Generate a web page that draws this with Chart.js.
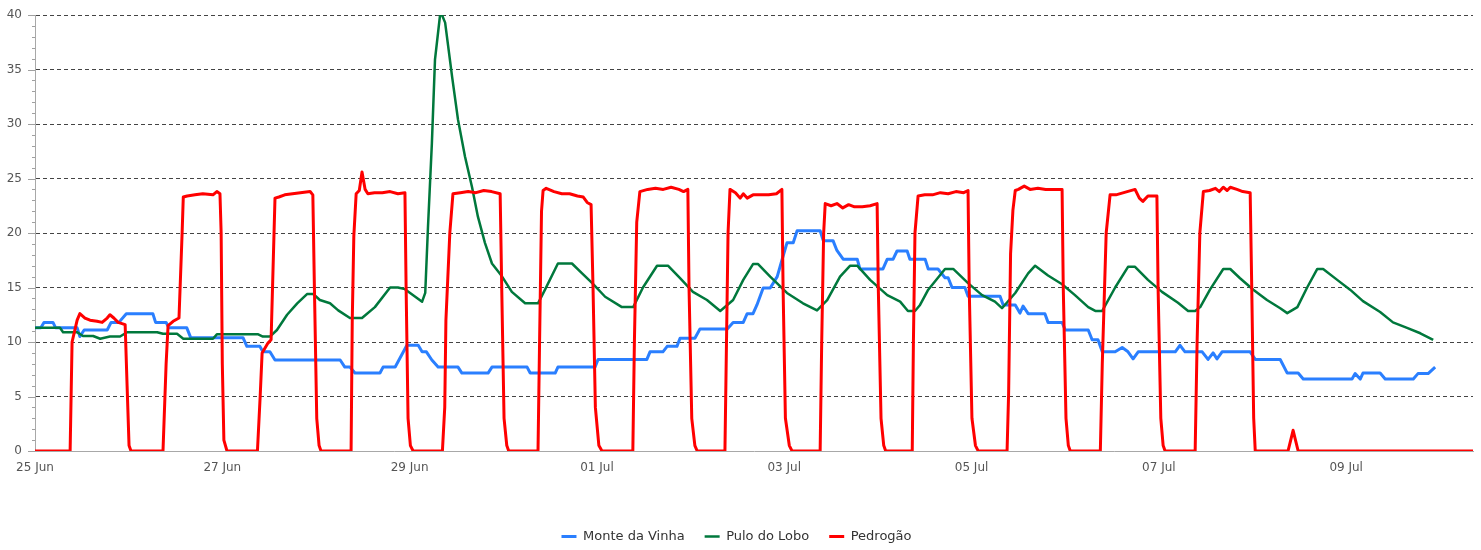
<!DOCTYPE html>
<html>
<head>
<meta charset="utf-8">
<script src="https://cdn.jsdelivr.net/npm/chart.js@4.4.0/dist/chart.umd.min.js"></script>
<style>
  html, body { margin: 0; padding: 0; background: #fff; overflow: hidden; }
</style>
</head>
<body>
<canvas id="chart" width="1481" height="550"></canvas>
<script>
// hours since 25 Jun 00:00
const tickHours = [0, 48, 96, 144, 192, 240, 288, 336];
const tickLabels = ['25 Jun', '27 Jun', '29 Jun', '01 Jul', '03 Jul', '05 Jul', '07 Jul', '09 Jul'];
const yTicks = [0, 5, 10, 15, 20, 25, 30, 35, 40];

const monteDaVinha = [
  [0, 11.3], [1.5, 11.3], [2.3, 11.8], [4.6, 11.8], [5.3, 11.3], [10.8, 11.3], [11.5, 10.5], [12.6, 11.1],
  [18.5, 11.1], [19.5, 11.8], [21.5, 11.8], [23.4, 12.6], [30.2, 12.6], [30.9, 11.8], [33.6, 11.8], [34.3, 11.3],
  [38.9, 11.3], [39.9, 10.4], [53.3, 10.4], [54.3, 9.6], [57.6, 9.6], [58.4, 9.1], [60.2, 9.1], [61.5, 8.35],
  [78.2, 8.35], [79.4, 7.7], [80.7, 7.7], [82.0, 7.15], [88.4, 7.15], [89.2, 7.7], [92.3, 7.7], [95.3, 9.7],
  [98.2, 9.7], [99.2, 9.1], [100.3, 9.1], [101.7, 8.35], [103.3, 7.7], [108.4, 7.7], [109.4, 7.15], [116.1, 7.15],
  [117.1, 7.7], [126.1, 7.7], [126.9, 7.15], [133.3, 7.15], [134.0, 7.7], [143.5, 7.7], [144.3, 8.4], [156.8, 8.4],
  [157.6, 9.1], [160.9, 9.1], [162.0, 9.6], [164.5, 9.6], [165.3, 10.35], [169.1, 10.35], [170.4, 11.2], [177.4, 11.2],
  [178.9, 11.8], [181.5, 11.8], [182.5, 12.6], [184.0, 12.6], [185.0, 13.4], [186.6, 14.95], [188.4, 14.95], [190.2, 16.0],
  [191.4, 17.5], [192.7, 19.1], [194.3, 19.1], [195.3, 20.2], [201.2, 20.2], [202.0, 19.3], [204.5, 19.3], [205.5, 18.4],
  [207.1, 17.6], [210.7, 17.6], [211.4, 16.7], [217.3, 16.7], [218.4, 17.6], [219.9, 17.6], [220.9, 18.35], [223.5, 18.35],
  [224.2, 17.6], [228.1, 17.6], [228.9, 16.7], [231.4, 16.7], [233.2, 15.9], [234.0, 15.9], [235.0, 15.0], [238.3, 15.0],
  [239.1, 14.2], [247.3, 14.2], [248.1, 13.4], [251.2, 13.4], [252.4, 12.65], [253.2, 13.3], [254.5, 12.6], [258.8, 12.6],
  [259.6, 11.8], [263.2, 11.8], [264.0, 11.1], [269.9, 11.1], [270.9, 10.2], [272.4, 10.2], [273.5, 9.1], [276.8, 9.1],
  [278.6, 9.5], [280.1, 9.1], [281.4, 8.45], [282.7, 9.1], [292.2, 9.1], [293.4, 9.7], [294.7, 9.1], [299.1, 9.1],
  [300.6, 8.4], [301.9, 9.0], [302.9, 8.45], [304.2, 9.1], [311.4, 9.1], [312.7, 8.4], [319.1, 8.4], [320.9, 7.15],
  [323.7, 7.15], [325.0, 6.6], [337.5, 6.6], [338.3, 7.1], [339.6, 6.6], [340.3, 7.15], [344.7, 7.15], [346.0, 6.6],
  [353.2, 6.6], [354.4, 7.1], [357.0, 7.1], [358.8, 7.7]
];

const puloDoLobo = [
  [0, 11.3], [6.4, 11.3], [7.2, 10.9], [10.8, 10.9], [12.3, 10.55], [14.9, 10.55], [16.7, 10.3], [19.2, 10.5],
  [21.8, 10.5], [23.6, 10.9], [31.3, 10.9], [32.8, 10.75], [36.4, 10.75], [38.0, 10.3], [45.6, 10.3], [46.6, 10.7],
  [57.2, 10.7], [58.4, 10.5], [60.2, 10.5], [62.0, 11.1], [64.6, 12.5], [67.2, 13.55], [69.7, 14.4], [71.3, 14.4],
  [73.0, 13.85], [75.6, 13.55], [77.7, 12.9], [80.7, 12.2], [83.8, 12.2], [87.1, 13.2], [91.0, 15.0], [93.0, 15.0],
  [94.8, 14.85], [99.2, 13.7], [100.0, 14.5], [100.7, 20.5], [101.7, 28.2], [102.5, 35.9], [103.8, 40.0], [104.3, 40.0],
  [105.1, 39.3], [106.9, 34.3], [108.4, 30.4], [110.2, 27.0], [112.0, 24.2], [113.5, 21.5], [115.3, 19.1], [117.1, 17.2],
  [119.7, 16.0], [122.2, 14.6], [125.6, 13.55], [128.9, 13.55], [130.7, 14.8], [134.0, 17.2], [137.6, 17.2], [140.2, 16.3],
  [142.8, 15.4], [146.1, 14.15], [150.4, 13.2], [153.3, 13.2], [155.8, 15.0], [159.4, 17.0], [162.2, 17.0], [165.3, 15.85],
  [168.6, 14.6], [172.2, 13.85], [175.6, 12.85], [178.9, 13.85], [181.5, 15.7], [184.0, 17.15], [185.3, 17.15], [188.4, 16.0],
  [192.7, 14.5], [196.8, 13.55], [200.4, 12.9], [203.0, 13.85], [206.3, 16.0], [208.9, 17.0], [210.7, 17.0], [214.0, 15.7],
  [218.4, 14.3], [221.7, 13.7], [223.7, 12.85], [225.5, 12.85], [226.8, 13.4], [228.9, 14.8], [233.2, 16.7], [235.3, 16.7],
  [239.1, 15.4], [242.7, 14.3], [246.0, 13.7], [247.8, 13.1], [251.2, 14.5], [254.5, 16.3], [256.3, 17.0], [259.6, 16.1],
  [263.2, 15.3], [266.5, 14.3], [269.9, 13.2], [271.7, 12.85], [273.5, 12.85], [276.8, 15.0], [280.1, 16.9], [281.9, 16.9],
  [285.2, 15.7], [288.8, 14.6], [292.9, 13.6], [295.5, 12.85], [297.3, 12.85], [298.6, 13.2], [301.1, 14.8], [304.5, 16.7],
  [306.3, 16.7], [308.8, 15.85], [312.2, 14.8], [315.7, 13.85], [319.1, 13.1], [320.9, 12.65], [323.5, 13.2], [326.0, 15.0],
  [328.6, 16.7], [330.1, 16.7], [333.7, 15.7], [337.0, 14.8], [340.3, 13.75], [344.7, 12.75], [348.0, 11.8], [351.6, 11.3],
  [355.0, 10.8], [358.3, 10.2]
];

const pedrogao = [
  [0, 0], [9.0, 0], [9.5, 10.0], [10.8, 12.0], [11.5, 12.6], [12.8, 12.2], [14.1, 12.0], [15.9, 11.9], [17.2, 11.8],
  [18.5, 12.2], [19.2, 12.5], [20.2, 12.2], [21.3, 11.8], [23.1, 11.6], [23.6, 6], [24.1, 0.5], [24.6, 0],
  [32.8, 0], [33.6, 8], [34.1, 11.5], [35.4, 11.9], [36.9, 12.2], [37.7, 20], [38.0, 23.3], [39.0, 23.4], [41, 23.5],
  [43, 23.6], [45.6, 23.5], [46.6, 23.8], [47.4, 23.6], [47.7, 20], [48.0, 8], [48.4, 1], [49.2, 0],
  [57.0, 0], [57.7, 5], [58.2, 9.0], [59.7, 9.9], [60.5, 10.2], [61.5, 23.2], [62.5, 23.3], [64, 23.5], [66, 23.6],
  [68, 23.7], [70.5, 23.8], [71.2, 23.5], [71.6, 15], [72.2, 3], [72.8, 0.5], [73.3, 0],
  [81.0, 0], [81.3, 12], [81.7, 19.7], [82.3, 23.6], [83.1, 23.9], [83.8, 25.6], [84.6, 24.0], [85.3, 23.6], [87, 23.7],
  [89, 23.7], [91, 23.8], [93, 23.6], [94.8, 23.7], [95.1, 15], [95.6, 3], [96.2, 0.5], [96.9, 0],
  [104.4, 0], [105.0, 4], [105.3, 12], [106.3, 20], [107.1, 23.6], [109, 23.7], [111, 23.8], [113, 23.7], [115, 23.9],
  [117, 23.8], [119.2, 23.6], [119.6, 15], [120.2, 3], [120.9, 0.5], [121.4, 0],
  [128.9, 0], [129.3, 10], [129.8, 22], [130.2, 23.9], [131, 24.1], [133, 23.8], [135, 23.6], [137, 23.6], [139, 23.4],
  [140.5, 23.3], [141.5, 22.8], [142.5, 22.6], [143.0, 15], [143.6, 4], [144.5, 0.5], [145.3, 0],
  [153.2, 0], [153.6, 10], [154.2, 21], [155.0, 23.8], [157, 24.0], [159, 24.1], [161, 24.0], [163, 24.2], [165, 24.0],
  [166.2, 23.8], [167.3, 24.0], [167.6, 15], [168.3, 3], [169.1, 0.5], [169.7, 0],
  [176.8, 0], [177.2, 10], [177.6, 20], [178.1, 24.0], [179.5, 23.7], [180.7, 23.2], [181.5, 23.6], [182.5, 23.2],
  [184, 23.5], [186, 23.5], [188, 23.5], [190, 23.6], [191.4, 24.0], [191.7, 15], [192.3, 3], [193.3, 0.5], [194.0, 0],
  [201.2, 0], [201.6, 10], [202.1, 20], [202.5, 22.7], [204, 22.5], [205.5, 22.7], [207, 22.3], [208.5, 22.6],
  [210, 22.4], [212, 22.4], [214, 22.5], [215.8, 22.7], [216.1, 15], [216.8, 3], [217.5, 0.5], [218.0, 0],
  [224.8, 0], [225.1, 10], [225.5, 20], [226.3, 23.4], [228, 23.5], [230, 23.5], [232, 23.7], [234, 23.6], [236, 23.8],
  [238, 23.7], [239.1, 23.9], [239.4, 15], [240.1, 3], [241.0, 0.5], [241.7, 0],
  [249.1, 0], [249.5, 5.3], [250.0, 18.1], [250.6, 22.1], [251.2, 23.9], [252, 24.0], [253.5, 24.3], [255, 24.0],
  [257, 24.1], [259, 24.0], [261, 24.0], [263.2, 24.0], [263.5, 15], [264.2, 3], [264.8, 0.5], [265.3, 0],
  [273.0, 0], [273.5, 8], [274.5, 20], [275.5, 23.5], [277, 23.5], [279, 23.7], [281.9, 24.0], [283.0, 23.2],
  [283.9, 22.9], [285.2, 23.4], [287.5, 23.4], [287.8, 15], [288.5, 3], [289.1, 0.5], [289.6, 0],
  [297.3, 0], [297.8, 10], [298.5, 20], [299.4, 23.8], [301, 23.9], [302.5, 24.1], [303.5, 23.8], [304.5, 24.2],
  [305.5, 23.9], [306.3, 24.2], [308, 24.0], [309.5, 23.8], [311.4, 23.7], [311.8, 15], [312.3, 3], [312.7, 0],
  [321.1, 0], [322.4, 1.9], [323.7, 0], [368.5, 0]
];

const toPoints = arr => arr.map(p => ({ x: p[0], y: p[1] }));

// small tick marks on the y axis (major every 5, minor every 1)
const minorTicks = {
  id: 'minorTicks',
  afterDraw(chart) {
    const y = chart.scales.y;
    const ctx = chart.ctx;
    const left = chart.chartArea.left;
    ctx.save();
    ctx.strokeStyle = '#a0a0a0';
    ctx.lineWidth = 1;
    for (let v = 0; v <= 40; v++) {
      const len = v % 5 === 0 ? 7 : 3;
      const py = Math.round(y.getPixelForValue(v)) + 0.5;
      ctx.beginPath();
      ctx.moveTo(left - len, py);
      ctx.lineTo(left, py);
      ctx.stroke();
    }
    ctx.restore();
  }
};

new Chart(document.getElementById('chart'), {
  type: 'line',
  data: {
    datasets: [
      {
        label: 'Monte da Vinha',
        data: toPoints(monteDaVinha),
        borderColor: '#2a7fff',
        backgroundColor: '#2a7fff',
        borderWidth: 3,
        order: 3
      },
      {
        label: 'Pulo do Lobo',
        data: toPoints(puloDoLobo),
        borderColor: '#00783c',
        backgroundColor: '#00783c',
        borderWidth: 2.5,
        order: 2
      },
      {
        label: 'Pedrogão',
        data: toPoints(pedrogao),
        borderColor: '#ff0000',
        backgroundColor: '#ff0000',
        borderWidth: 3,
        order: 1
      }
    ]
  },
  options: {
    responsive: false,
    animation: false,
    devicePixelRatio: 1,
    parsing: false,
    elements: {
      point: { radius: 0 },
      line: { tension: 0, fill: false, borderJoinStyle: 'round' }
    },
    layout: { padding: { top: 15, right: 8, left: 0, bottom: -3 } },
    plugins: {
      tooltip: { enabled: false },
      legend: {
        position: 'bottom',
        labels: {
          usePointStyle: true,
          pointStyle: 'line',
          pointStyleWidth: 15,
          padding: 20,
          color: '#333',
          font: { family: 'DejaVu Sans', size: 13 },
          sort: (a, b) => a.datasetIndex - b.datasetIndex
        }
      }
    },
    scales: {
      x: {
        type: 'linear',
        min: 0,
        max: 368.5,
        afterBuildTicks: s => { s.ticks = tickHours.map(v => ({ value: v })); },
        afterFit: s => { s.height = 59; },
        grid: { display: false, drawTicks: false },
        border: { display: true, color: '#a8a8a8', width: 1 },
        ticks: {
          padding: 10,
          maxRotation: 0,
          autoSkip: false,
          color: '#555',
          font: { family: 'DejaVu Sans', size: 12 },
          callback: v => tickLabels[tickHours.indexOf(v)] || ''
        }
      },
      y: {
        min: 0,
        max: 40,
        afterBuildTicks: s => { s.ticks = yTicks.map(v => ({ value: v })); },
        afterFit: s => { s.width = 35; s.paddingTop = 0; s.paddingBottom = 0; },
        grid: {
          drawTicks: false,
          color: c => (c.tick && c.tick.value === 0) ? 'rgba(0,0,0,0)' : '#444',
          lineWidth: 1
        },
        border: { display: true, color: '#a8a8a8', width: 1, dash: [4, 3] },
        ticks: {
          padding: 13,
          color: '#555',
          font: { family: 'DejaVu Sans', size: 12 }
        }
      }
    }
  },
  plugins: [minorTicks]
});
</script>
</body>
</html>
